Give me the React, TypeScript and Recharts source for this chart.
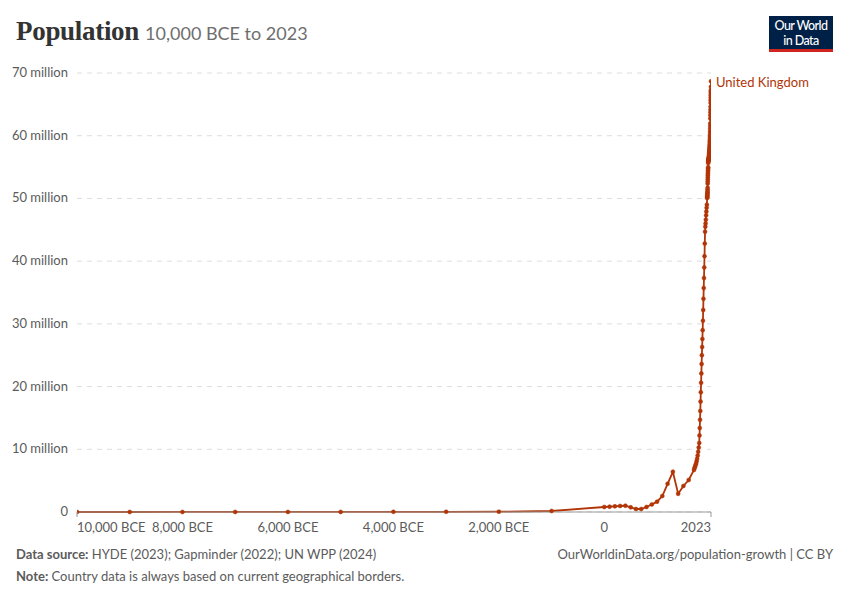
import { CartesianGrid, Line, LineChart, XAxis, YAxis } from "recharts";

// HYDE long-run estimates (millennia, then centuries, then decades)
const earlyYears = [-10000, -9000, -8000, -7000, -6000, -5000, -4000, -3000, -2000, -1000];
const earlyPop = [0.003, 0.004, 0.006, 0.008, 0.01, 0.015, 0.02, 0.03, 0.05, 0.16];

const centuryYears = [0, 100, 200, 300, 400, 500, 600, 700, 800, 900, 1000, 1100, 1200, 1300, 1400, 1500, 1600];
const centuryPop = [0.8, 0.85, 0.9, 0.96, 1.0, 0.75, 0.48, 0.48, 0.8, 1.2, 1.65, 2.55, 4.5, 6.4, 2.9, 4.15, 5.1];

const decadeYears = [1700, 1710, 1720, 1730, 1740, 1750, 1760, 1770, 1780, 1790];
const decadePop = [6.7, 7.0, 7.2, 7.5, 7.7, 8.1, 8.5, 9.0, 9.6, 10.3];

// Gapminder, every five years
const gapYears = [
  1800, 1805, 1810, 1815, 1820, 1825, 1830, 1835, 1840, 1845, 1850, 1855, 1860, 1865, 1870,
  1875, 1880, 1885, 1890, 1895, 1900, 1905, 1910, 1915, 1920, 1925, 1930, 1935, 1940, 1945,
];
const gapPop = [
  11.0, 12.2, 13.4, 14.7, 16.1, 17.6, 19.1, 20.6, 22.1, 23.6, 25.0, 26.3, 27.6, 29.0, 30.5,
  32.2, 34.0, 35.7, 37.3, 39.0, 40.8, 42.8, 44.7, 45.5, 46.0, 46.6, 47.3, 47.9, 48.5, 49.0,
];

// UN WPP, annual from 1950
const unStart = 1950;
const unPop = [
  50.06, 50.18, 50.31, 50.45, 50.61, 50.78, 50.97, 51.19, 51.44, 51.72,
  52.37, 52.7, 53.03, 53.36, 53.68, 53.98, 54.26, 54.52, 54.76, 54.98,
  55.65, 55.8, 55.93, 56.03, 56.1, 56.15, 56.18, 56.2, 56.23, 56.27,
  56.31, 56.36, 56.41, 56.47, 56.54, 56.62, 56.72, 56.84, 56.96, 57.09,
  57.21, 57.33, 57.45, 57.58, 57.72, 57.87, 58.03, 58.2, 58.38, 58.6,
  58.85, 59.1, 59.36, 59.65, 59.95, 60.29, 60.68, 61.1, 61.53, 61.95,
  62.76, 63.27, 63.72, 64.14, 64.6, 65.22, 65.65, 66.04, 66.4, 66.75,
  67.06, 67.28, 67.79, 68.68,
];

const yTicks = [0, 10, 20, 30, 40, 50, 60, 70];
const xTicks = [-10000, -8000, -6000, -4000, -2000, 0, 2023];

const seriesName = "United Kingdom";
const lineColor = "#b13507";

const data = [
  ...earlyYears.map((year, i) => ({ year, pop: earlyPop[i] })),
  ...centuryYears.map((year, i) => ({ year, pop: centuryPop[i] })),
  ...decadeYears.map((year, i) => ({ year, pop: decadePop[i] })),
  ...gapYears.map((year, i) => ({ year, pop: gapPop[i] })),
  ...unPop.map((pop, i) => ({ year: unStart + i, pop })),
];

const font = "Lato, 'Open Sans', 'DejaVu Sans', sans-serif";

function yearLabel(v: number) {
  if (v < 0) return `${Math.abs(v).toLocaleString("en-US")} BCE`;
  return String(v);
}

function XTick(props: any) {
  const { x, y, payload, index } = props;
  const last = index === xTicks.length - 1;
  const first = index === 0;
  const anchor = first ? "start" : last ? "end" : "middle";
  return (
    <g>
      {(first || last) && <line x1={x} x2={x} y1={y - 8} y2={y - 3} stroke="#999" />}
      <text x={x} y={y + 12} textAnchor={anchor} fill="#5b5b5b" fontSize={13} fontFamily={font}>
        {yearLabel(payload.value)}
      </text>
    </g>
  );
}

function YTick(props: any) {
  const { x, y, payload } = props;
  const v = payload.value;
  return (
    <text x={x - 1} y={y + 4} textAnchor="end" fill="#5b5b5b" fontSize={13} fontFamily={font}>
      {v === 0 ? "0" : `${v} million`}
    </text>
  );
}

function EndLabel(props: any) {
  const { x, y, index } = props;
  if (index !== data.length - 1) return null;
  return (
    <text x={x + 5} y={y + 6} fill={lineColor} fontSize={13} fontFamily={font}>
      {seriesName}
    </text>
  );
}

export default function App() {
  return (
    <div style={{ position: "absolute", left: 0, top: 0, width: 850, height: 600, background: "#fff", fontFamily: font }}>
      <div style={{ position: "absolute", left: 16, top: 16, whiteSpace: "nowrap" }}>
        <span
          style={{
            fontFamily: "'Liberation Serif', 'DejaVu Serif', serif",
            fontWeight: 700,
            fontSize: 27,
            color: "#333333",
            letterSpacing: -0.3,
          }}
        >
          Population
        </span>
        <span style={{ fontSize: 18, color: "#6e6e6e", marginLeft: 6 }}>10,000 BCE to 2023</span>
      </div>
      <div
        style={{
          position: "absolute",
          left: 769,
          top: 16,
          width: 64,
          height: 36,
          background: "#002147",
          borderBottom: "3px solid #ce261e",
          color: "#fff",
          fontSize: 12.5,
          fontWeight: 500,
          textAlign: "center",
          paddingTop: 2,
          boxSizing: "border-box",
          letterSpacing: -0.6,
        }}
      >
        <div style={{ lineHeight: "15px" }}>Our World</div>
        <div style={{ lineHeight: "15px" }}>in Data</div>
      </div>
      <LineChart width={850} height={600} data={data} margin={{ top: 73, right: 139, bottom: 58, left: 16 }}>
        <CartesianGrid vertical={false} stroke="#dddddd" strokeDasharray="5 5" />
        <XAxis
          dataKey="year"
          type="number"
          domain={[-10000, 2023]}
          ticks={xTicks}
          interval={0}
          tick={<XTick />}
          tickLine={false}
          axisLine={{ stroke: "#999" }}
          height={30}
          allowDataOverflow
        />
        <YAxis
          type="number"
          domain={[0, 70]}
          ticks={yTicks}
          interval={0}
          width={61}
          axisLine={false}
          tickLine={false}
          tick={<YTick />}
        />
        <Line
          type="linear"
          dataKey="pop"
          stroke={lineColor}
          strokeWidth={1.8}
          dot={{ r: 2, fill: lineColor, stroke: lineColor, strokeWidth: 0.5 }}
          label={<EndLabel />}
          isAnimationActive={false}
        />
      </LineChart>
      <div style={{ position: "absolute", left: 16, top: 546, fontSize: 13, color: "#5b5b5b", whiteSpace: "nowrap" }}>
        <b style={{ fontWeight: 700 }}>Data source:</b> HYDE (2023); Gapminder (2022); UN WPP (2024)
      </div>
      <div style={{ position: "absolute", right: 17, top: 546, fontSize: 13, color: "#5b5b5b", whiteSpace: "nowrap" }}>
        OurWorldinData.org/population-growth | CC BY
      </div>
      <div style={{ position: "absolute", left: 16, top: 568, fontSize: 13, color: "#5b5b5b", whiteSpace: "nowrap" }}>
        <b style={{ fontWeight: 700 }}>Note:</b> Country data is always based on current geographical borders.
      </div>
    </div>
  );
}
